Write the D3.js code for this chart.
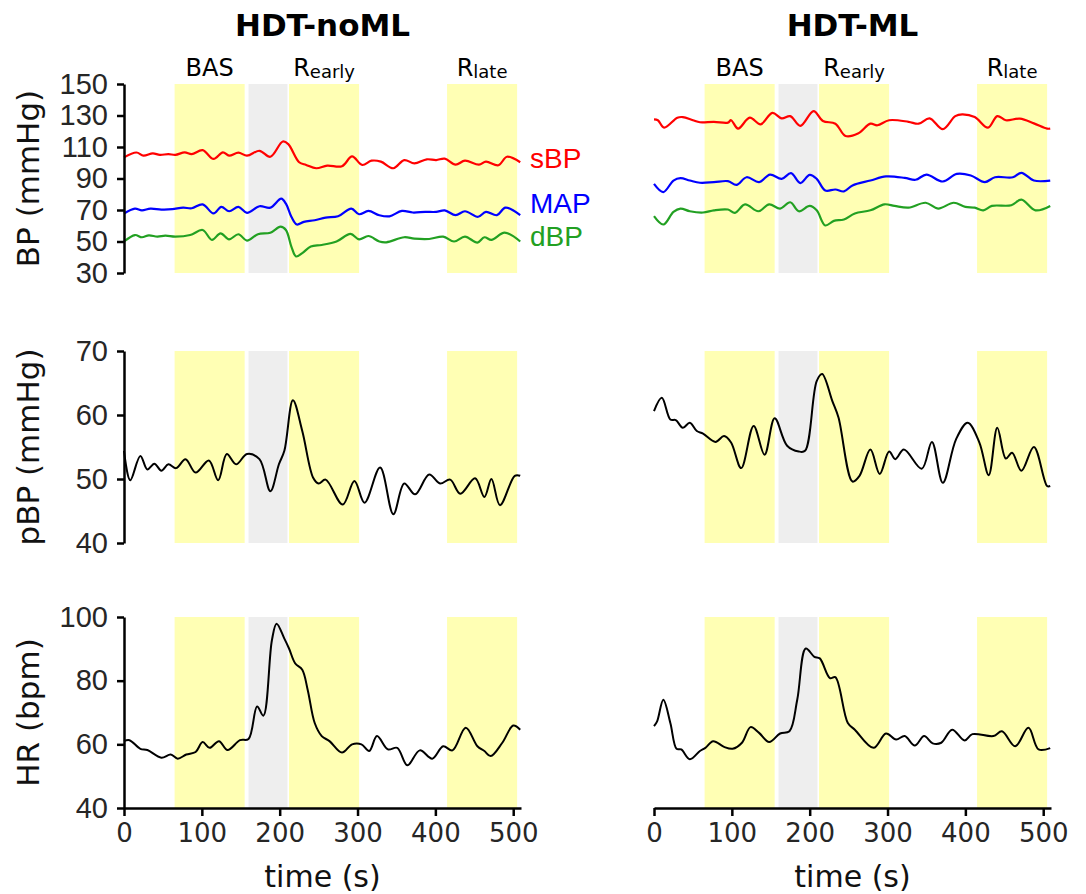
<!DOCTYPE html>
<html>
<head>
<meta charset="utf-8">
<script src="https://cdn.jsdelivr.net/npm/d3@7"></script>
<style>
  body { margin: 0; background: #fff; }
  text { font-family: "DejaVu Sans", sans-serif; }
</style>
</head>
<body>
<svg id="chart" width="1086" height="894"></svg>
<script>
// phase windows (s)
var bandStart = [65, 160, 212, 415];
var bandEnd   = [155, 210, 302, 505];
var bandKind  = ["rest", "tilt", "rest", "rest"];
var phaseNames = [["BAS", ""], ["R", "early"], ["R", "late"]];
var phaseBand  = [0, 2, 3];

var xTicks   = [0, 100, 200, 300, 400, 500];
var bpTicks  = [30, 50, 70, 90, 110, 130, 150];
var pbpTicks = [40, 50, 60, 70];
var hrTicks  = [40, 60, 80, 100];

var titles = ["HDT-noML", "HDT-ML"];
var bpNames = ["sBP", "MAP", "dBP"];

// HDT-noML
var noML_sBP = [[0,103.4],[16,106.5],[25,104.5],[37,106],[46,105],[57,105.5],[66,105],[78,106.6],[87,105.5],[101,108],[115,102.4],[127,106.6],[135,104.5],[147,106.4],[158,104.5],[174,107.6],[188,103.8],[204,113.5],[211,111.8],[225,100.3],[234,98.6],[247,96.5],[261,98.2],[280,97.8],[293,104],[306,98.6],[318,101.3],[330,100.7],[346,96.5],[360,101.7],[373,99.6],[389,102.2],[401,101.7],[412,102.6],[426,98.8],[438,101.3],[456,98.8],[465,100.7],[481,98.4],[492,103.8],[509,100.3]];
var noML_MAP = [[0,67.8],[14,70.9],[23,69.8],[34,70.9],[48,70.3],[62,70.5],[76,71.5],[87,71.1],[101,73.6],[115,67.8],[125,72],[135,69.2],[147,72],[158,68.2],[174,72.4],[188,71.5],[202,77.2],[208,74],[215,65.7],[222,60.8],[231,62.5],[245,63.5],[259,65.2],[275,66],[292,70.9],[302,67.3],[314,69.4],[328,66.7],[341,66],[357,69.4],[371,68.4],[387,68.8],[401,68.8],[412,69.8],[426,66.7],[438,69.2],[455,65.7],[465,68.8],[479,66.7],[490,71.5],[509,66.7]];
var noML_dBP = [[0,50],[14,54.1],[23,52.7],[32,53.9],[43,53.1],[53,53.7],[66,53.1],[85,54.1],[101,57.3],[113,51],[124,55.2],[135,51.4],[147,54.6],[158,50.6],[172,54.6],[188,55.6],[201,59.4],[208,57.3],[215,46.8],[221,40.5],[229,42.6],[240,46.8],[254,47.8],[273,50],[291,54.8],[302,51.4],[314,53.5],[328,50],[337,49.5],[360,52.7],[373,51.8],[392,51.6],[410,53.1],[424,50],[438,53.1],[454,49.3],[463,52.7],[472,51],[489,55.6],[509,50]];
var noML_pBP = [[0,54.4],[8,49.8],[21,53.6],[30,51.5],[39,52.4],[48,51.3],[57,52.3],[67,51.7],[79,53.1],[92,51],[109,52.9],[121,49.8],[132,53.9],[144,52.3],[158,53.9],[174,53.1],[188,48.1],[199,52.3],[206,54.4],[217,62.3],[229,57.5],[243,50.2],[250,49.3],[259,49.9],[281,46],[296,49.7],[309,46.3],[329,51.8],[346,44.5],[360,49.3],[374,47.6],[392,50.7],[406,49.3],[419,49.9],[432,47.7],[451,50.1],[463,47.2],[472,50],[483,45.9],[502,50.5],[509,50.5]];
var noML_HR = [[0,61],[7,61.3],[21,58.6],[30,58.2],[48,55.8],[60,56.8],[69,55.5],[80,56.8],[92,57.6],[101,60.7],[110,58.9],[122,61],[133,58.2],[149,61.3],[160,61.7],[171,71.9],[179,69],[190,92.7],[196,97.9],[206,93.2],[212,90.1],[220,85.4],[229,83.4],[236,77.1],[245,66.7],[254,62.6],[264,61],[280,57.4],[293,60],[305,60],[315,57.9],[325,62.6],[339,58.4],[351,58.9],[364,53.4],[380,58.1],[396,55.5],[410,59.4],[422,58.1],[439,65.2],[454,59.4],[463,57.9],[471,56.3],[486,60.5],[500,65.9],[509,64.6]];

// HDT-ML
var ML_sBP = [[0,127.6],[5,127],[13,122.3],[30,128.6],[37,129],[50,127],[59,125.7],[77,126],[95,125.5],[99,127],[108,121.7],[123,128.6],[137,124.4],[152,131.7],[164,128.2],[175,129.6],[188,123.4],[205,132.8],[217,126.5],[233,124.8],[246,117],[262,118.5],[278,124.8],[287,123.8],[302,127],[327,126],[340,124.8],[354,128.2],[371,121.3],[387,129.6],[396,130.7],[412,129],[429,122.3],[441,129.6],[452,127],[470,128],[488,125],[505,121.7],[509,121.7]];
var ML_MAP = [[0,86.6],[12,81.4],[25,88.7],[34,90.2],[46,88.7],[59,87.3],[77,87.7],[95,88.3],[106,86],[119,90.8],[135,87.7],[149,92.5],[164,89.8],[176,93.4],[188,87.1],[200,92.3],[209,89.8],[220,82.4],[233,83],[244,81.8],[255,85.6],[278,88.7],[298,91.3],[322,90.4],[336,89.2],[350,92.5],[371,88.1],[389,92.9],[407,91.9],[425,87.7],[438,90.8],[461,90.8],[472,93.6],[488,88.7],[509,88.7]];
var ML_dBP = [[0,66.1],[12,60.8],[25,68.8],[34,70.9],[46,69.2],[63,68.4],[77,69.8],[95,70.3],[104,68.2],[117,73.6],[134,69.2],[148,73.6],[162,70.9],[175,74.9],[186,69.2],[200,72.6],[209,69.8],[220,60.2],[231,63.1],[244,64],[258,67.8],[278,69.8],[296,73.6],[309,72.6],[327,71.5],[349,74.6],[365,70.9],[385,74.6],[400,72],[412,71.5],[423,69.8],[434,72.6],[459,73],[472,76.6],[490,69.8],[509,72.6]];
var ML_pBP = [[0,60.6],[10,62.7],[21,59.3],[28,59.2],[37,58],[46,58.8],[55,57.5],[63,57.1],[79,55.8],[90,56.7],[99,55.7],[112,51.7],[128,58.3],[142,53.8],[155,59.5],[171,55.2],[186,54.3],[194,54.4],[209,65.3],[216,66.4],[229,62.2],[237,59.6],[255,49.6],[264,50.5],[278,54.6],[290,50.8],[302,54.3],[310,53.1],[321,54.6],[344,51.6],[357,55.8],[371,49.4],[388,56.2],[403,58.8],[418,55.7],[430,50.6],[441,58],[452,53.2],[460,54.1],[472,51.3],[488,55],[505,48.9],[509,48.9]];
var ML_HR = [[0,65.7],[4,67.2],[12,74],[21,66.7],[29,58.6],[35,58.4],[46,55.3],[59,57.9],[66,58.9],[76,61],[90,59.2],[101,58.6],[113,60.5],[124,65.4],[135,63.6],[148,60.7],[162,63.4],[174,64.1],[184,74],[195,90.1],[206,87.5],[213,87],[226,80.8],[233,81.1],[249,66.7],[258,64.6],[282,58.9],[298,63.4],[311,61.5],[322,62.6],[335,59.6],[347,62.6],[358,60.3],[369,60.5],[383,64.6],[399,61.2],[409,63.2],[436,62.6],[447,64.1],[464,59.4],[481,65.2],[494,58.4],[509,58.8]];

var svg = d3.select("#chart");
var colX = [124, 654];
var x = d3.scaleLinear().domain([0, 510]).range([0, 397]);

var rows = [
  { top: 84,  bottom: 273, domain: [30, 150], ticks: bpTicks,  label: "BP (mmHg)" },
  { top: 351, bottom: 543, domain: [40, 70],  ticks: pbpTicks, label: "pBP (mmHg)" },
  { top: 617, bottom: 808, domain: [40, 100], ticks: hrTicks,  label: "HR (bpm)" }
];
rows.forEach(function (r) {
  r.y = d3.scaleLinear().domain(r.domain).range([r.bottom, r.top]);
});

var bpColors = ["#ff0000", "#0000ff", "#22a022"];
var line = function (y) {
  return d3.line()
    .x(function (d) { return x(d[0]); })
    .y(function (d) { return y(d[1]); })
    .curve(d3.curveCatmullRom.alpha(0.5));
};

var cols = [
  { bp: [noML_sBP, noML_MAP, noML_dBP], pbp: noML_pBP, hr: noML_HR },
  { bp: [ML_sBP, ML_MAP, ML_dBP], pbp: ML_pBP, hr: ML_HR }
];

cols.forEach(function (c, ci) {
  var g = svg.append("g").attr("transform", "translate(" + colX[ci] + ",0)");

  // title
  g.append("text")
    .attr("x", x(255)).attr("y", 36)
    .attr("text-anchor", "middle")
    .style("font-size", "31px").style("font-weight", "bold")
    .text(titles[ci]);

  // phase labels
  phaseNames.forEach(function (p, i) {
    var b = phaseBand[i];
    var t = g.append("text")
      .attr("x", x((bandStart[b] + bandEnd[b]) / 2)).attr("y", 76)
      .attr("text-anchor", "middle")
      .style("font-size", "24px");
    t.append("tspan").text(p[0]);
    if (p[1]) t.append("tspan").attr("dy", 2).style("font-size", "18px").text(p[1]);
  });

  rows.forEach(function (r, ri) {
    // bands
    g.append("g").selectAll("rect")
      .data(bandStart)
      .enter().append("rect")
      .attr("x", function (d, i) { return x(d); })
      .attr("width", function (d, i) { return x(bandEnd[i]) - x(d); })
      .attr("y", r.top)
      .attr("height", r.bottom - r.top)
      .style("fill", function (d, i) { return bandKind[i] == "tilt" ? "#eeeeee" : "#ffffb4"; });

    var series = ri == 0 ? c.bp : [ri == 1 ? c.pbp : c.hr];
    series.forEach(function (s, si) {
      g.append("path")
        .datum(s)
        .attr("d", line(r.y))
        .style("fill", "none")
        .style("stroke", ri == 0 ? bpColors[si] : "#000")
        .style("stroke-width", ri == 0 ? 2.2 : 2);
    });

    // y axis only on the left column
    if (ci == 0) {
      var ya = g.append("g")
        .call(d3.axisLeft(r.y).tickValues(r.ticks).tickSize(7).tickSizeOuter(0).tickPadding(9));
      ya.select(".domain").style("stroke-width", 2.5);
      ya.selectAll(".tick line").style("stroke-width", 2.5);
      ya.selectAll(".tick text")
        .style("font-family", "'Liberation Sans', Arial, sans-serif")
        .style("font-size", "29px").style("fill", "#262626");

      g.append("text")
        .attr("transform", "translate(-85," + (r.top + r.bottom) / 2 + ") rotate(-90)")
        .attr("text-anchor", "middle")
        .style("font-size", "31px").style("fill", "#111")
        .text(r.label);
    }

    // x axis only on the bottom row
    if (ri == 2) {
      var xa = g.append("g")
        .attr("transform", "translate(0," + r.bottom + ")")
        .call(d3.axisBottom(x).tickValues(xTicks).tickSize(8).tickSizeOuter(0).tickPadding(8));
      xa.select(".domain").style("stroke-width", 2.5);
      xa.selectAll(".tick line").style("stroke-width", 2.5);
      xa.selectAll(".tick text")
        .style("font-family", "'DejaVu Sans', sans-serif")
        .style("font-size", "26px").style("fill", "#262626");

      g.append("text")
        .attr("x", x(255)).attr("y", 887)
        .attr("text-anchor", "middle")
        .style("font-size", "30px").style("fill", "#111")
        .text("time (s)");
    }
  });

  // BP legend next to the left column
  if (ci == 0) {
    var ly = [168, 213, 246];
    bpNames.forEach(function (n, i) {
      g.append("text")
        .attr("x", 406).attr("y", ly[i])
        .style("font-family", "'Liberation Sans', Arial, sans-serif")
        .style("font-size", "28px").style("fill", bpColors[i])
        .text(n);
    });
  }
});
</script>
</body>
</html>
